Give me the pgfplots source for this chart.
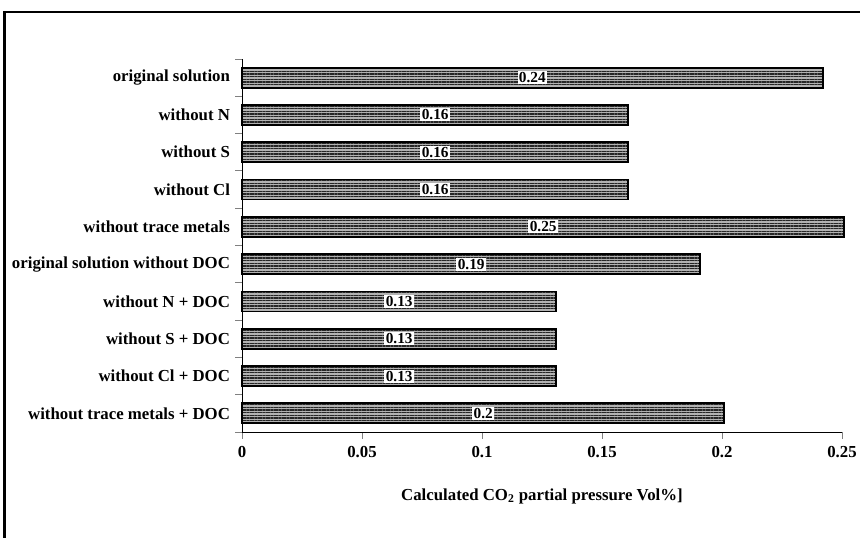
\documentclass[border=0pt]{standalone}
\usepackage{pgfplots}
\pgfplotsset{compat=1.18}
\usepackage{pgfplotstable}
\usepackage{fontspec}
\setmainfont{Liberation Serif}
\usetikzlibrary{patterns.meta}

\pgfplotstableread{
y v lab
9 0.242 0.24
8 0.161 0.16
7 0.161 0.16
6 0.161 0.16
5 0.251 0.25
4 0.191 0.19
3 0.131 0.13
2 0.131 0.13
1 0.131 0.13
0 0.201 0.2
}\data

\begin{document}
\begin{tikzpicture}[x=1pt,y=1pt]
\useasboundingbox (0,0) rectangle (645,403.5);
\draw[line width=1.8pt] (3.5,-5) -- (3.5,394.5) -- (660,394.5);
\begin{axis}[
 at={(181.5pt,79.5pt)}, anchor=south west,
 scale only axis, width=450pt, height=279.75pt,
 xmin=0, xmax=0.25, ymin=-0.5, ymax=9.5,
 axis x line*=bottom, axis y line*=left,
 axis line style={line width=0.6pt},
 xtick={0,0.05,0.1,0.15,0.2,0.25},
 xticklabels={0,0.05,0.1,0.15,0.2,0.25},
 ytick={0,...,9},
 yticklabels={without trace metals + DOC, without Cl + DOC, without S + DOC, without N + DOC, original solution without DOC, without trace metals, without Cl, without S, without N, original solution},
 major y tick style={draw=none},
 minor ytick={-0.5,0.5,...,9.5},
 minor y tick style={line width=0.6pt},
 major x tick style={line width=0.6pt},
 tick align=outside,
 major tick length=5pt, minor tick length=5pt,
 ticklabel style={font=\fontsize{12.6}{14}\selectfont\bfseries},
 yticklabel style={xshift=-0.5pt},
 xticklabel style={yshift=-2pt},
 xlabel={Calculated CO\textsubscript{2} partial pressure Vol\%]},
 xlabel style={font=\fontsize{12.6}{14}\selectfont\bfseries, at={(axis description cs:0.5,0)}, anchor=center, yshift=-48pt},
 clip=false,
]
\addplot[xbar, bar width=15pt, draw=black, line width=1.4pt,
  preaction={fill=gray!60},
  pattern={Lines[angle=0,distance=2pt,line width=0.8pt]}, pattern color=gray!30!black]
  table[x=v, y=y] {\data};
\addplot[only marks, mark=none, nodes near coords, point meta=explicit symbolic,
  every node near coord/.style={anchor=center, fill=white, inner sep=1pt, font=\fontsize{11.5}{12}\selectfont\bfseries}]
  table[x expr=\thisrow{v}/2, y=y, meta=lab] {\data};
\end{axis}
\end{tikzpicture}
\end{document}
